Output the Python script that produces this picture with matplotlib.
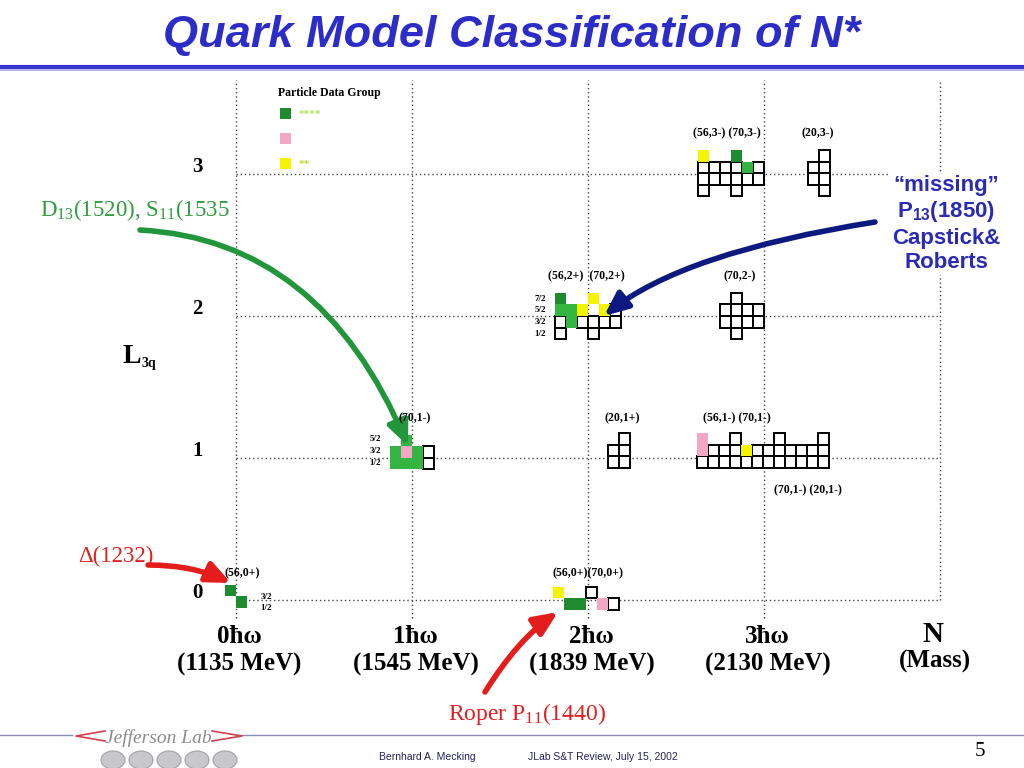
import matplotlib.pyplot as plt
from matplotlib.patches import Rectangle, Circle
from matplotlib.lines import Line2D

# oscillator bands and orbital L values
bands = [0, 1, 2, 3]
band_labels = ['0\u0127\u03c9', '1\u0127\u03c9', '2\u0127\u03c9', '3\u0127\u03c9']
band_mass = ['(1135 MeV)', '(1545 MeV)', '(1839 MeV)', '(2130 MeV)']
L_values = [0, 1, 2, 3]

# multiplets: left edge (N units), bottom edge (L units), cell rows top -> bottom
# o = predicted state, G/g = **** states, p = *** , y = **
multiplet_names = ['56,0+', '56,0+ 70,0+', '70,1-', '20,1+', '56,1- 70,1- 20,1-',
                   '56,2+ 70,2+', '70,2-', '56,3- 70,3-', '20,3-']
multiplet_N = [-0.0625, 1.80, 0.875, 2.114, 2.619, 1.8125, 2.75, 2.625, 3.25]
multiplet_L = [-0.056, -0.07, 0.92, 0.93, 0.93, 1.838, 1.838, 2.845, 2.845]
multiplet_cells = [
    ['G.', '.G'],
    ['y..o..', '.GG.po'],
    ['.g..', 'gpgo', 'gggo'],
    ['.o', 'oo', 'oo'],
    ['p..o...o...o', 'poooyooooooo', 'oooooooooooo'],
    ['G..y..', 'ggy.yo', 'ogoooo', 'o..o..'],
    ['.o..', 'oooo', 'oooo', '.o..'],
    ['y..G..', 'oooogo', 'oooooo', 'o..o..'],
    ['.o', 'oo', 'oo', '.o'],
]
cell_colors = {'G': '#1e8c2e', 'g': '#34b440', 'p': '#f2a7c5', 'y': '#f4f400'}

legend_colors = ['#1e8c2e', '#f2a7c5', '#f4f400']
legend_stars = ['****', '', '**']

W, H = 1024, 768
N0, NSTEP = 236, 176   # pixel of N=0, pixels per band
L0, LSTEP = 600, 142   # pixel of L=0, pixels per L


def at(x, y):
    # slide pixel (top-left origin) -> figure fraction
    return x / W, 1 - y / H


fig = plt.figure(figsize=(10.24, 7.68), dpi=100)
ax = fig.add_axes([0, 0, 1, 1])
ax.set_xlim(-N0 / NSTEP, (W - N0) / NSTEP)
ax.set_ylim((L0 - H) / LSTEP, L0 / LSTEP)
ax.axis('off')

serif = 'Liberation Serif'
sans = 'Liberation Sans'

# title and its underline
fig.text(*at(512, 35), 'Quark Model Classification of N*', ha='center', va='center',
         fontsize=32.5, fontweight='bold', fontstyle='italic', color='#2c2cc8', family=sans)
fig.add_artist(Line2D([0, 1], [1 - 67 / H] * 2, color='#3434cc', lw=3))
fig.add_artist(Line2D([0, 1], [1 - 70 / H] * 2, color='#b8b8e8', lw=1.5))

# dotted grid
grid_kw = dict(color='#444444', lw=1.0, ls=(0, (1, 2)), zorder=1)
for n in bands + [4]:
    ax.plot([n, n], [-0.13 if n < 4 else 0, 3.66], **grid_kw)
for L in L_values:
    ax.plot([0, 4], [L, L], **grid_kw)

# axis numbers
for L in L_values:
    ax.text(-0.22, L + 0.05, str(L), ha='center', va='center', fontsize=15,
            fontweight='bold', family=serif)
for n, lab, m in zip(bands, band_labels, band_mass):
    ax.text(n + 0.02, -0.255, lab, ha='center', va='center', fontsize=18, fontweight='bold', family=serif)
    ax.text(n + 0.02, -0.455, m, ha='center', va='center', fontsize=18, fontweight='bold', family=serif)
ax.text(3.96, -0.24, 'N', ha='center', va='center', fontsize=21, fontweight='bold', family=serif)
ax.text(3.97, -0.435, '(Mass)', ha='center', va='center', fontsize=18, fontweight='bold', family=serif)
fig.text(*at(132, 356), 'L', ha='center', va='center', fontsize=20, fontweight='bold', family=serif)
fig.text(*at(149, 363), '3q', ha='center', va='center', fontsize=10, fontweight='bold', family=serif)

# multiplet cells
cw, ch = 0.0625, 0.081
for n0, l0, rows in zip(multiplet_N, multiplet_L, multiplet_cells):
    nr = len(rows)
    for i, row in enumerate(rows):
        for j, c in enumerate(row):
            if c == '.':
                continue
            x = n0 + j * cw
            y = l0 + (nr - 1 - i) * ch
            if c == 'o':
                ax.add_patch(Rectangle((x, y), cw, ch, fc='white', ec='black', lw=1.4, zorder=3))
            else:
                ax.add_patch(Rectangle((x, y), cw, ch, fc=cell_colors[c], ec='none', zorder=4))

# multiplet labels
lab_kw = dict(ha='center', va='center', fontsize=8.5, fontweight='bold', family=serif)
for x, y, s in [(727, 133, '(56,3-) (70,3-)'), (818, 133, '(20,3-)'),
                (586, 276, '(56,2+)  (70,2+)'), (740, 276, '(70,2-)'),
                (415, 418, '(70,1-)'), (622, 418, '(20,1+)'),
                (737, 418, '(56,1-) (70,1-)'), (808, 490, '(70,1-) (20,1-)'),
                (242, 573, '(56,0+)'), (588, 573, '(56,0+)(70,0+)')]:
    fig.text(*at(x, y), s, **lab_kw)

j_kw = dict(ha='center', va='center', fontsize=6.5, fontweight='bold', family=serif)
for y, s in zip([299, 310, 322, 334], ['7/2', '5/2', '3/2', '1/2']):
    fig.text(*at(540, y), s, **j_kw)
for y, s in zip([439, 451, 463], ['5/2', '3/2', '1/2']):
    fig.text(*at(375, y), s, **j_kw)
for y, s in zip([597, 608], ['3/2', '1/2']):
    fig.text(*at(266, y), s, **j_kw)

# PDG legend
fig.text(*at(278, 93), 'Particle Data Group', ha='left', va='center', fontsize=8.5,
         fontweight='bold', family=serif)
for k, (c, st) in enumerate(zip(legend_colors, legend_stars)):
    y = 113 + 25 * k
    fig.add_artist(Rectangle(at(280, y + 6), 11 / W, 11 / H, fc=c, ec='none'))
    if st:
        fig.text(*at(299, y + 1), st, ha='left', va='center', fontsize=8, fontweight='bold',
                 color='#b4e060' if k == 0 else '#c8d830', family=serif)

# annotations with arrows
fig.text(*at(40, 210), 'D$\\mathregular{_{13}}$(1520), S$\\mathregular{_{11}}$(1535',
         ha='left', va='center', fontsize=16.5, color='#2c9c3c', family=serif)
fig.text(*at(78, 556), '\u0394(1232)', ha='left', va='center', fontsize=16.5, color='#e02020', family=serif)
fig.text(*at(448, 714), 'Roper P$\\mathregular{_{11}}$(1440)', ha='left', va='center',
         fontsize=17, color='#e02020', family=serif)
fig.text(*at(946, 224), '\u201cmissing\u201d\nP$\\mathregular{_{13}}$(1850)\nCapstick&\nRoberts',
         ha='center', va='center', fontsize=16, fontweight='bold', color='#2a2ab4',
         family=sans, linespacing=1.22, bbox=dict(fc='white', ec='none', pad=1))


def arrow(start, tip, color, style):
    ax.annotate('', xy=at(*tip), xycoords='figure fraction', xytext=at(*start),
                textcoords='figure fraction', zorder=6,
                arrowprops=dict(arrowstyle='-|>,head_length=0.8,head_width=0.35',
                                mutation_scale=18, lw=4, color=color,
                                shrinkA=0, shrinkB=0, connectionstyle=style))


arrow((140, 230), (408, 446), '#21963a', 'angle3,angleA=-3,angleB=113')
arrow((875, 222), (604, 316), '#0c1a80', 'angle3,angleA=9,angleB=39')
arrow((148, 565), (231, 583), '#e41c1c', 'angle3,angleA=0,angleB=-25')
arrow((485, 692), (558, 612), '#e41c1c', 'angle3,angleA=58,angleB=34')

# footer
fig.add_artist(Line2D([0, 72 / W], [1 - 735 / H] * 2, color='#8c8cb4', lw=1))
fig.add_artist(Line2D([242 / W, 1], [1 - 735 / H] * 2, color='#8c8cb4', lw=1))
for k in range(5):
    fig.add_artist(Circle(at(113 + 28 * k, 760), 12 / W, fc='#c8c8cc', ec='#a0a0a8', lw=0.8))
fig.add_artist(Line2D([105 / W, 76 / W, 105 / W], [1 - 731 / H, 1 - 736 / H, 1 - 741 / H],
                      color='#d04050', lw=1.2))
fig.add_artist(Line2D([212 / W, 242 / W, 212 / W], [1 - 731 / H, 1 - 736 / H, 1 - 741 / H],
                      color='#d04050', lw=1.2))
fig.text(*at(158, 738), 'Jefferson Lab', ha='center', va='center', fontsize=14,
         fontstyle='italic', color='#8a8a90', family=serif)
fig.text(*at(427, 757), 'Bernhard A. Mecking', ha='center', va='center', fontsize=7.5,
         color='#22225a', family=sans)
fig.text(*at(603, 757), 'JLab S&T Review, July 15, 2002', ha='center', va='center',
         fontsize=7.5, color='#22225a', family=sans)
fig.text(*at(980, 752), '5', ha='center', va='center', fontsize=15, family=serif)

fig.savefig('out.png', dpi=100, facecolor='white')
